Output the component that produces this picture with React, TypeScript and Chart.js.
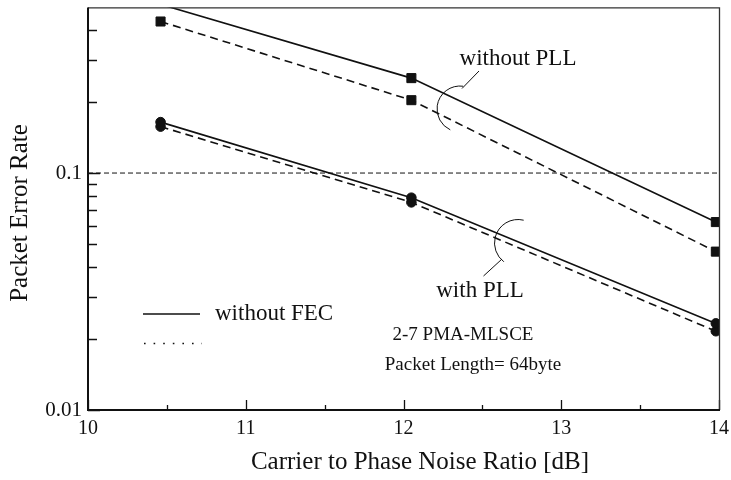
import { useEffect, useRef } from "react";
import { Chart, registerables } from "chart.js";

Chart.register(...registerables);

// Carrier to phase noise ratio [dB] of the measured points
const cnrDb = [10.46, 12.05, 13.98];

// Packet error rate per configuration
const perNoPllNoFec = [0.515, 0.2515, 0.0621];
const perNoPllFec = [0.436, 0.203, 0.0466];
const perPllNoFec = [0.164, 0.0787, 0.0232];
const perPllFec = [0.157, 0.0752, 0.0215];

// Axis ticks
const xTickValues = [10, 11, 12, 13, 14];
const xMinorTicks = [10.5, 11.5, 12.5, 13.5];
const yTickValues = [0.01, 0.1];
const yMinorTicks = [0.02, 0.03, 0.04, 0.05, 0.06, 0.07, 0.08, 0.09, 0.2, 0.3, 0.4];
const referenceLevel = 0.1;

const xTitle = "Carrier to Phase Noise Ratio [dB]";
const yTitle = "Packet Error Rate";

const X_MIN = 10;
const X_MAX = 14;
const Y_MIN = 0.01;
const Y_MAX = 0.5;

const SERIF = "'Liberation Serif', 'Times New Roman', serif";
const INK = "#111";

const toPoints = (ys: number[]) => cnrDb.map((x, i) => ({ x, y: ys[i] }));

const hideOutside = (ctx: any, r: number) => {
  const y = ctx.parsed ? ctx.parsed.y : 0;
  return y > Y_MAX || y < Y_MIN ? 0 : r;
};

function series(data: number[], dashed: boolean, style: "rect" | "circle") {
  const r = style === "rect" ? 6.4 : 4.8;
  return {
    data: toPoints(data),
    showLine: true,
    borderColor: INK,
    backgroundColor: INK,
    borderWidth: 1.6,
    borderDash: dashed ? [8, 5] : [],
    pointStyle: style,
    pointRadius: (ctx: any) => hideOutside(ctx, r),
    pointBorderWidth: 1,
    pointBackgroundColor: INK,
    pointBorderColor: INK,
  };
}

const noEdgePadding = (s: any) => {
  s.paddingTop = 0;
  s.paddingBottom = 0;
  s.paddingLeft = 0;
  s.paddingRight = 0;
};

const decorations = {
  id: "decorations",
  afterDraw(chart: any) {
    const { ctx, chartArea: a, scales } = chart;
    const xs = scales.x;
    const ys = scales.y;
    ctx.save();

    // inner tick marks
    ctx.strokeStyle = INK;
    ctx.lineWidth = 1.3;
    ctx.setLineDash([]);
    ctx.beginPath();
    yMinorTicks.forEach((v) => {
      const y = Math.round(ys.getPixelForValue(v)) + 0.5;
      ctx.moveTo(a.left, y);
      ctx.lineTo(a.left + 9, y);
    });
    yTickValues.forEach((v) => {
      const y = Math.round(ys.getPixelForValue(v)) + 0.5;
      ctx.moveTo(a.left, y);
      ctx.lineTo(a.left + 12, y);
    });
    xTickValues.forEach((v) => {
      const x = Math.round(xs.getPixelForValue(v)) + 0.5;
      ctx.moveTo(x, a.bottom);
      ctx.lineTo(x, a.bottom - 10);
    });
    xMinorTicks.forEach((v) => {
      const x = Math.round(xs.getPixelForValue(v)) + 0.5;
      ctx.moveTo(x, a.bottom);
      ctx.lineTo(x, a.bottom - 5);
    });
    ctx.stroke();

    // plot frame
    ctx.lineWidth = 1.3;
    ctx.strokeStyle = "#333";
    ctx.beginPath();
    ctx.moveTo(a.left, a.top + 0.5);
    ctx.lineTo(a.right + 0.5, a.top + 0.5);
    ctx.lineTo(a.right + 0.5, a.bottom);
    ctx.stroke();
    ctx.lineWidth = 2;
    ctx.strokeStyle = INK;
    ctx.beginPath();
    ctx.moveTo(a.left, a.top);
    ctx.lineTo(a.left, a.bottom);
    ctx.lineTo(a.right + 1, a.bottom);
    ctx.stroke();

    // axis titles
    ctx.fillStyle = INK;
    ctx.textBaseline = "middle";
    ctx.textAlign = "center";
    ctx.font = `25px ${SERIF}`;
    ctx.fillText(xTitle, 420, 462);
    ctx.save();
    ctx.translate(20, 213);
    ctx.rotate(-Math.PI / 2);
    ctx.fillText(yTitle, 0, 0);
    ctx.restore();

    // curve group annotations
    ctx.lineWidth = 1;
    ctx.strokeStyle = INK;
    const deg = Math.PI / 180;
    ctx.beginPath();
    ctx.arc(460, 109, 23, -82 * deg, 115 * deg, true);
    ctx.moveTo(479, 71);
    ctx.lineTo(462, 88.5);
    ctx.stroke();
    ctx.beginPath();
    ctx.arc(518, 243, 23.5, -76 * deg, 127 * deg, true);
    ctx.moveTo(502, 259);
    ctx.lineTo(483.5, 276);
    ctx.stroke();

    ctx.font = `23px ${SERIF}`;
    ctx.fillText("without PLL", 518, 59);
    ctx.fillText("with PLL", 480, 291);

    // legend
    ctx.lineWidth = 1.7;
    ctx.beginPath();
    ctx.moveTo(143, 314);
    ctx.lineTo(200, 314);
    ctx.stroke();
    ctx.lineWidth = 1.6;
    ctx.setLineDash([1.6, 8]);
    ctx.beginPath();
    ctx.moveTo(144, 343.5);
    ctx.lineTo(202, 343.5);
    ctx.stroke();
    ctx.setLineDash([]);
    ctx.textAlign = "left";
    ctx.fillText("without FEC", 215, 314);

    ctx.textAlign = "center";
    ctx.font = `19px ${SERIF}`;
    ctx.fillText("2-7 PMA-MLSCE", 463, 335);
    ctx.fillText("Packet Length= 64byte", 473, 365);

    ctx.restore();
  },
};

export default function App() {
  const canvasRef = useRef<HTMLCanvasElement | null>(null);

  useEffect(() => {
    if (!canvasRef.current) return;
    const chart = new Chart(canvasRef.current, {
      type: "scatter",
      data: {
        datasets: [
          {
            data: [
              { x: X_MIN, y: referenceLevel },
              { x: X_MAX, y: referenceLevel },
            ],
            showLine: true,
            borderColor: INK,
            borderWidth: 1,
            borderDash: [5, 3],
            pointRadius: 0,
          },
          series(perNoPllNoFec, false, "rect"),
          series(perNoPllFec, true, "rect"),
          series(perPllNoFec, false, "circle"),
          series(perPllFec, true, "circle"),
        ] as any,
      },
      options: {
        responsive: false,
        animation: false,
        events: [],
        layout: { padding: { left: 0, top: 5, right: 12, bottom: 0 } },
        plugins: {
          legend: { display: false },
          tooltip: { enabled: false },
        },
        scales: {
          x: {
            type: "linear",
            min: X_MIN,
            max: X_MAX,
            afterFit: (s: any) => {
              s.height = 70;
              noEdgePadding(s);
            },
            afterBuildTicks: (s: any) => {
              s.ticks = xTickValues.map((value) => ({ value }));
            },
            grid: { display: false, drawTicks: false },
            border: { display: false },
            ticks: {
              color: INK,
              font: { family: SERIF, size: 20 },
              padding: 7,
              maxRotation: 0,
              callback: (v: any) => String(v),
            },
            title: { display: false },
          },
          y: {
            type: "logarithmic",
            min: Y_MIN,
            max: Y_MAX,
            afterFit: (s: any) => {
              s.width = 88;
              noEdgePadding(s);
            },
            afterBuildTicks: (s: any) => {
              s.ticks = yTickValues.map((value) => ({ value }));
            },
            grid: { display: false, drawTicks: false },
            border: { display: false },
            ticks: {
              color: INK,
              font: { family: SERIF, size: 21 },
              padding: 6,
              callback: (v: any) => String(v),
            },
            title: { display: false },
          },
        },
      },
      plugins: [decorations],
    });
    return () => chart.destroy();
  }, []);

  return (
    <div style={{ position: "fixed", left: 0, top: 0, width: 731, height: 480, background: "#fff" }}>
      <canvas ref={canvasRef} width={731} height={480} style={{ display: "block" }} />
    </div>
  );
}
